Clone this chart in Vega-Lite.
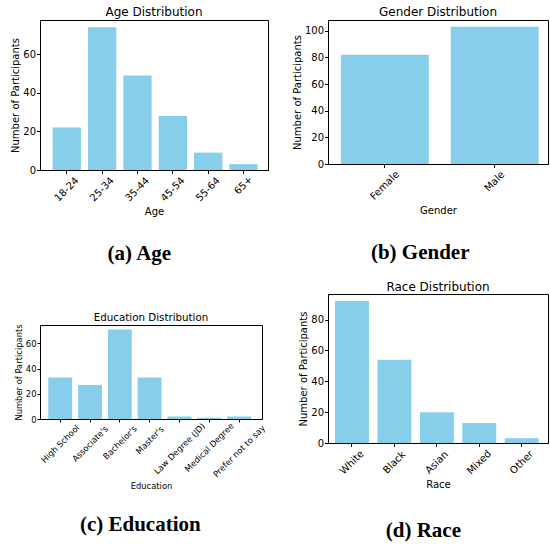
{
  "$schema": "https://vega.github.io/schema/vega-lite/v6.json",
  "padding": {"left": 10, "top": 5, "right": 0, "bottom": 0},
  "datasets": {
    "age": [
      {"cat": "18-24", "n": 22},
      {"cat": "25-34", "n": 74},
      {"cat": "35-44", "n": 49},
      {"cat": "45-54", "n": 28},
      {"cat": "55-64", "n": 9},
      {"cat": "65+", "n": 3}
    ],
    "gender": [
      {"cat": "Female", "n": 82},
      {"cat": "Male", "n": 103}
    ],
    "edu": [
      {"cat": "High School", "n": 33},
      {"cat": "Associate's", "n": 27},
      {"cat": "Bachelor's", "n": 71},
      {"cat": "Master's", "n": 33},
      {"cat": "Law Degree (JD)", "n": 2},
      {"cat": "Medical Degree", "n": 1},
      {"cat": "Prefer not to say", "n": 2}
    ],
    "race": [
      {"cat": "White", "n": 92},
      {"cat": "Black", "n": 54},
      {"cat": "Asian", "n": 20},
      {"cat": "Mixed", "n": 13},
      {"cat": "Other", "n": 3}
    ]
  },
  "hconcat": [
    {
      "spacing": 47,
      "vconcat": [
        {
          "title": {"text": "(a) Age", "orient": "bottom", "anchor": "middle", "font": "Liberation Serif", "fontSize": 21, "fontWeight": "bold", "offset": 26},
          "vconcat": [
            {
              "data": {"name": "age"},
              "title": {"text": "Age Distribution", "anchor": "middle", "offset": 1},
              "width": 228,
              "height": 150,
              "mark": {"type": "bar", "color": "#87CEEB"},
              "encoding": {
                "x": {"field": "cat", "type": "nominal", "sort": null, "title": "Age",
                  "scale": {"paddingInner": 0.2, "paddingOuter": 0.325, "align": 0.55},
                  "axis": {"labelAngle": -45, "labelAlign": "center", "labelBaseline": "middle", "labelPadding": {"expr": "5.5 + 2*length(datum.label)"}, "labelFontSize": 10, "titleFontSize": 10, "titlePadding": 4}},
                "y": {"field": "n", "type": "quantitative", "title": "Number of Participants",
                  "scale": {"domain": [0, 77.7], "nice": false},
                  "axis": {"values": [0, 20, 40, 60], "labelFontSize": 10, "titleFontSize": 10, "labelPadding": 1, "titlePadding": 2}}
              }
            }
          ]
        },
        {
          "title": {"text": "(c) Education", "orient": "bottom", "anchor": "middle", "font": "Liberation Serif", "fontSize": 21, "fontWeight": "bold", "offset": 24},
          "vconcat": [
            {
              "data": {"name": "edu"},
              "title": {"text": "Education Distribution", "anchor": "middle", "fontSize": 10.3, "offset": 1},
              "width": 222,
              "height": 94,
              "mark": {"type": "bar", "color": "#87CEEB"},
              "encoding": {
                "x": {"field": "cat", "type": "nominal", "sort": null, "title": "Education",
                  "scale": {"paddingInner": 0.2, "paddingOuter": 0.324, "align": 0.43},
                  "axis": {"labelAngle": -45, "labelAlign": "center", "labelBaseline": "middle", "labelPadding": {"expr": "7.8 + 1.22*length(datum.label)"}, "labelFontSize": 8.4, "titleFontSize": 8.4, "titlePadding": 3, "tickSize": 3}},
                "y": {"field": "n", "type": "quantitative", "title": "Number of Participants",
                  "scale": {"domain": [0, 74.55], "nice": false},
                  "axis": {"values": [0, 20, 40, 60], "labelFontSize": 8.4, "titleFontSize": 8.4, "labelPadding": 1, "titlePadding": 2, "tickSize": 3}}
              }
            }
          ]
        }
      ]
    },
    {
      "spacing": 17,
      "vconcat": [
        {
          "title": {"text": "(b) Gender", "orient": "bottom", "anchor": "middle", "font": "Liberation Serif", "fontSize": 21, "fontWeight": "bold", "offset": 26},
          "vconcat": [
            {
              "data": {"name": "gender"},
              "title": {"text": "Gender Distribution", "anchor": "middle", "offset": 1},
              "width": 220,
              "height": 144,
              "mark": {"type": "bar", "color": "#87CEEB"},
              "encoding": {
                "x": {"field": "cat", "type": "nominal", "sort": null, "title": "Gender",
                  "scale": {"paddingInner": 0.2, "paddingOuter": 0.101, "align": 0.58},
                  "axis": {"labelAngle": -45, "labelAlign": "center", "labelBaseline": "middle", "labelPadding": {"expr": "5.5 + 2*length(datum.label)"}, "labelFontSize": 10, "titleFontSize": 10, "titlePadding": 4}},
                "y": {"field": "n", "type": "quantitative", "title": "Number of Participants",
                  "scale": {"domain": [0, 108.15], "nice": false},
                  "axis": {"values": [0, 20, 40, 60, 80, 100], "labelFontSize": 10, "titleFontSize": 10, "labelPadding": 1, "titlePadding": 2}}
              }
            }
          ]
        },
        {
          "title": {"text": "(d) Race", "orient": "bottom", "anchor": "middle", "font": "Liberation Serif", "fontSize": 21, "fontWeight": "bold", "offset": 30},
          "vconcat": [
            {
              "data": {"name": "race"},
              "title": {"text": "Race Distribution", "anchor": "middle", "offset": 0},
              "width": 220,
              "height": 149,
              "mark": {"type": "bar", "color": "#87CEEB"},
              "encoding": {
                "x": {"field": "cat", "type": "nominal", "sort": null, "title": "Race",
                  "scale": {"paddingInner": 0.2, "paddingOuter": 0.192, "align": 0.43},
                  "axis": {"labelAngle": -45, "labelAlign": "center", "labelBaseline": "middle", "labelPadding": {"expr": "5.5 + 2*length(datum.label)"}, "labelFontSize": 10, "titleFontSize": 10, "titlePadding": 4}},
                "y": {"field": "n", "type": "quantitative", "title": "Number of Participants",
                  "scale": {"domain": [0, 96.6], "nice": false},
                  "axis": {"values": [0, 20, 40, 60, 80], "labelFontSize": 10, "titleFontSize": 10, "labelPadding": 1, "titlePadding": 2}}
              }
            }
          ]
        }
      ]
    }
  ],
  "spacing": 22,
  "config": {
    "font": "DejaVu Sans",
    "view": {"stroke": "black", "strokeWidth": 1},
    "axis": {"domainColor": "black", "tickColor": "black", "labelColor": "black", "titleColor": "black", "grid": false, "labelFont": "DejaVu Sans", "titleFont": "DejaVu Sans", "titleFontWeight": "normal", "tickSize": 3.5, "domainWidth": 1, "tickWidth": 1},
    "title": {"font": "DejaVu Sans", "fontWeight": "normal", "fontSize": 12, "color": "black", "offset": 3}
  }
}
